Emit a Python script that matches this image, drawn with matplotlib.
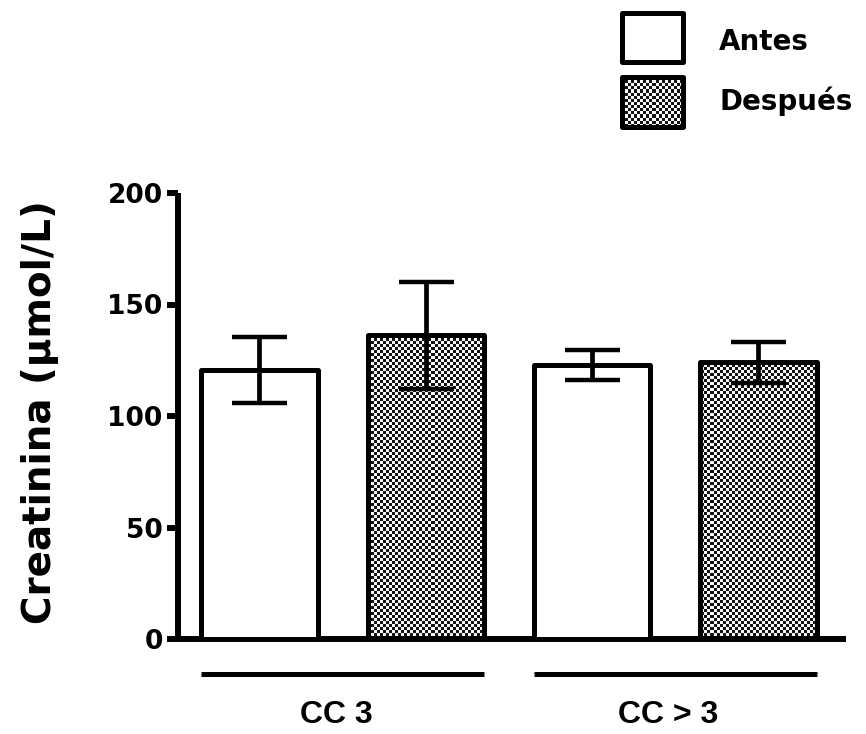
import numpy as np
import matplotlib
matplotlib.use("Agg")
import matplotlib.pyplot as plt
from matplotlib.patches import Rectangle
import matplotlib.transforms as mtransforms

# ---- data ----
categories = ["CC 3", "CC > 3"]
series_names = ["Antes", "Después"]
antes = [120.7, 123.0]
antes_err = [14.8, 6.8]
despues = [136.3, 124.0]
despues_err = [24.0, 9.3]
y_ticks = [0, 50, 100, 150, 200]
y_label = "Creatinina (μmol/L)"

W, H = 866, 734
fig = plt.figure(figsize=(W / 100, H / 100), dpi=100)
fig.patch.set_facecolor("white")

ax_l, ax_r, ax_b, ax_t = 178, 846, 639, 193
ax = fig.add_axes([ax_l / W, 1 - ax_b / H, (ax_r - ax_l) / W, (ax_b - ax_t) / H])

bar_w = 0.70
pos_antes = np.array([0.0, 2.0])
pos_desp = np.array([1.0, 3.0])
xlim = (-0.49, 3.527)
ylim = (0, 200)

# checker texture
cell = 3
nx = int((ax_r - ax_l) / cell)
ny = int((ax_b - ax_t) / cell)
ii, jj = np.indices((ny, nx))
checker = np.where((ii + jj) % 2 == 0, 0.08, 0.97)

edge_lw = 3.6
bars_a = ax.bar(pos_antes, antes, width=bar_w, facecolor="white", edgecolor="black",
                linewidth=edge_lw, zorder=3)
bars_d = ax.bar(pos_desp, despues, width=bar_w, facecolor="none", edgecolor="black",
                linewidth=edge_lw, zorder=3)
for b in list(bars_a) + list(bars_d):
    b.set_joinstyle("round")

for b in bars_d:
    im = ax.imshow(checker, cmap="gray", vmin=0, vmax=1, interpolation="nearest",
                   extent=(xlim[0], xlim[1], ylim[0], ylim[1]), aspect="auto",
                   origin="lower", zorder=2)
    im.set_clip_path(b)

err_kw = dict(fmt="none", ecolor="black", elinewidth=3.4, capsize=19.8, capthick=3.2, zorder=4)
ax.errorbar(pos_antes, antes, yerr=antes_err, **err_kw)
ax.errorbar(pos_desp, despues, yerr=despues_err, **err_kw)

ax.set_xlim(*xlim)
ax.set_ylim(*ylim)

for s in ["top", "right"]:
    ax.spines[s].set_visible(False)
for s in ["left", "bottom"]:
    ax.spines[s].set_linewidth(4.3)
    ax.spines[s].set_capstyle("butt")

ax.set_xticks([])
ax.set_yticks(y_ticks)
ax.set_yticklabels([str(t) for t in y_ticks], fontfamily="DejaVu Sans",
                   fontweight="bold", fontsize=19)
ax.tick_params(axis="y", direction="out", length=8, width=4.3, pad=3)

# group lines and labels
trans = mtransforms.blended_transform_factory(ax.transData, ax.transAxes)
for k, cat in enumerate(categories):
    x0 = pos_antes[k] - bar_w / 2
    x1 = pos_desp[k] + bar_w / 2
    ax.plot([x0, x1], [-0.0785, -0.0785], transform=trans, color="black",
            linewidth=3.6, clip_on=False, solid_capstyle="butt")
    ax.text((x0 + x1) / 2 - 0.04, -0.188, cat, transform=trans, ha="center",
            va="baseline", fontfamily="Liberation Sans", fontweight="bold", fontsize=23)

fig.text(40 / W, 1 - 412 / H, y_label, rotation=90, ha="center", va="center",
         fontfamily="DejaVu Sans", fontweight="bold", fontsize=28)

# legend (manual)
bx0, bx1 = 622, 683
boxes = [(13, 62), (77, 127)]
for idx, (by0, by1) in enumerate(boxes):
    if idx == 1:
        lax = fig.add_axes([bx0 / W, 1 - by1 / H, (bx1 - bx0) / W, (by1 - by0) / H])
        lnx = int((bx1 - bx0) / cell)
        lny = int((by1 - by0) / cell)
        li, lj = np.indices((lny, lnx))
        lax.imshow(np.where((li + lj) % 2 == 0, 0.08, 0.97), cmap="gray", vmin=0, vmax=1,
                   interpolation="nearest", aspect="auto")
        lax.axis("off")
    r = Rectangle((bx0 / W, 1 - by1 / H), (bx1 - bx0) / W, (by1 - by0) / H,
                  transform=fig.transFigure, facecolor="white" if idx == 0 else "none",
                  edgecolor="black", linewidth=edge_lw, joinstyle="round", zorder=5)
    fig.add_artist(r)

fig.text(719 / W, 1 - 50 / H, series_names[0], ha="left", va="baseline",
         fontfamily="DejaVu Sans", fontweight="bold", fontsize=20)
fig.text(720 / W, 1 - 110 / H, series_names[1], ha="left", va="baseline",
         fontfamily="DejaVu Sans", fontweight="bold", fontsize=20)

fig.savefig("out.png", dpi=100, facecolor="white")
